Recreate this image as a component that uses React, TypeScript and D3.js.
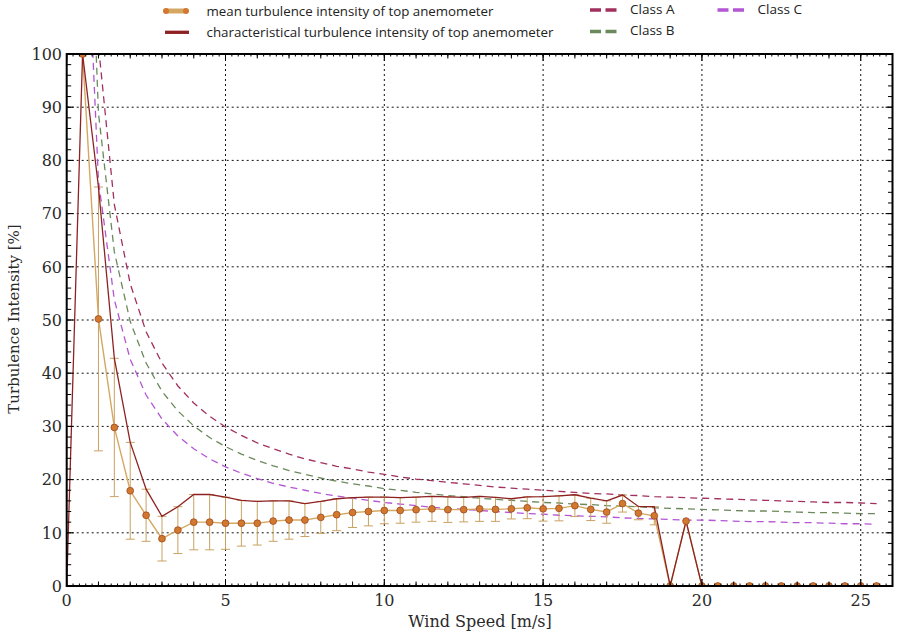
import React from 'react';
import * as d3 from 'd3';

// Wind speed bins [m/s]
const windSpeed = [0, 0.5, 1, 1.5, 2, 2.5, 3, 3.5, 4, 4.5, 5, 5.5, 6, 6.5, 7, 7.5, 8, 8.5, 9, 9.5, 10, 10.5, 11, 11.5, 12, 12.5, 13, 13.5, 14, 14.5, 15, 15.5, 16, 16.5, 17, 17.5, 18, 18.5, 19, 19.5, 20, 20.5, 21, 21.5, 22, 22.5, 23, 23.5, 24, 24.5, 25, 25.5];

// mean turbulence intensity [%] (null = no value)
const meanTI: (number | null)[] = [null, 100, 50.2, 29.8, 17.9, 13.3, 8.9, 10.5, 12.0, 12.0, 11.8, 11.8, 11.8, 12.2, 12.4, 12.4, 12.9, 13.4, 13.8, 14.0, 14.2, 14.2, 14.35, 14.5, 14.35, 14.35, 14.5, 14.4, 14.5, 14.7, 14.5, 14.6, 15.1, 14.4, 13.9, 15.5, 13.7, 13.2, 0, 12.2, 0, 0, 0, 0, 0, 0, 0, 0, 0, 0, 0, 0];

// standard deviation for error bars [%]
const stdTI = [0, 0, 24.8, 13.0, 9.1, 4.9, 4.2, 4.4, 5.2, 5.2, 4.9, 4.3, 4.1, 3.8, 3.6, 3.1, 3.0, 3.0, 2.8, 2.7, 2.5, 2.4, 2.35, 2.35, 2.4, 2.3, 2.35, 2.25, 1.9, 2.05, 2.3, 2.35, 2.05, 2.1, 2.1, 1.6, 1.25, 1.7, 0, 0, 0, 0, 0, 0, 0, 0, 0, 0, 0, 0, 0, 0];

// characteristical turbulence intensity [%]
const charTI = [0, 100, 75.0, 42.8, 27.0, 18.2, 13.1, 14.9, 17.2, 17.2, 16.7, 16.1, 15.9, 16.0, 16.0, 15.5, 15.9, 16.4, 16.6, 16.7, 16.7, 16.6, 16.7, 16.85, 16.75, 16.65, 16.85, 16.65, 16.4, 16.75, 16.8, 16.95, 17.15, 16.5, 16.0, 17.1, 14.95, 14.9, 0, 12.2, 0, 0, 0, 0, 0, 0, 0, 0, 0, 0, 0, 0];

// IEC class curves, sampled at windSpeed[1..] (0.5 ... 25.5)
const classA = [191.2, 101.6, 71.7, 56.8, 47.8, 41.9, 37.6, 34.4, 31.9, 29.9, 28.3, 26.9, 25.8, 24.8, 23.9, 23.2, 22.5, 22.0, 21.4, 21.0, 20.5, 20.1, 19.8, 19.5, 19.2, 18.9, 18.6, 18.4, 18.2, 18.0, 17.8, 17.6, 17.4, 17.3, 17.1, 17.0, 16.8, 16.7, 16.6, 16.5, 16.4, 16.3, 16.2, 16.1, 16.0, 15.9, 15.8, 15.7, 15.7, 15.6, 15.5];
const classB = [167.3, 88.9, 62.8, 49.7, 41.9, 36.6, 32.9, 30.1, 27.9, 26.2, 24.8, 23.6, 22.6, 21.7, 21.0, 20.3, 19.7, 19.2, 18.8, 18.3, 18.0, 17.6, 17.3, 17.0, 16.8, 16.5, 16.3, 16.1, 15.9, 15.7, 15.6, 15.4, 15.3, 15.1, 15.0, 14.9, 14.7, 14.6, 14.5, 14.4, 14.3, 14.2, 14.1, 14.1, 14.0, 13.9, 13.8, 13.8, 13.7, 13.6, 13.6];
const classC = [143.4, 76.2, 53.8, 42.6, 35.9, 31.4, 28.2, 25.8, 23.9, 22.4, 21.2, 20.2, 19.3, 18.6, 18.0, 17.4, 16.9, 16.5, 16.1, 15.7, 15.4, 15.1, 14.8, 14.6, 14.4, 14.2, 14.0, 13.8, 13.6, 13.5, 13.3, 13.2, 13.1, 13.0, 12.8, 12.7, 12.6, 12.5, 12.4, 12.4, 12.3, 12.2, 12.1, 12.1, 12.0, 11.9, 11.9, 11.8, 11.7, 11.7, 11.6];

const xTicks = [0, 5, 10, 15, 20, 25];
const yTicks = [0, 10, 20, 30, 40, 50, 60, 70, 80, 90, 100];

const classes = [
  { name: 'Class A', values: classA, color: '#a1305f' },
  { name: 'Class B', values: classB, color: '#6b8a5c' },
  { name: 'Class C', values: classC, color: '#b455d4' },
];

const W = 900, H = 632;
const L = 66.7, R = 892.5, T = 54, B = 586;

export default function App() {
  const x = d3.scaleLinear().domain([0, 26]).range([L, R]);
  const y = d3.scaleLinear().domain([0, 100]).range([B, T]);

  const classSpeeds = windSpeed.slice(1);
  const lineGen = d3.line<[number, number]>().x(d => x(d[0])).y(d => y(d[1]));

  const meanPts: [number, number][] = [];
  windSpeed.forEach((v, i) => { const m = meanTI[i]; if (m !== null) meanPts.push([v, m]); });
  const charPts: [number, number][] = windSpeed.map((v, i) => [v, charTI[i]]);

  const minorX = d3.range(0, 26.001, 0.2).map(v => Math.round(v * 10) / 10);
  const medX = d3.range(0, 27, 1);
  const minorY = d3.range(0, 101, 2);

  const serif = '"DejaVu Serif", serif';
  const sans = '"Open Sans", "Noto Sans", sans-serif';
  const tan = '#d4a862';
  const errC = '#c9a263';
  const red = '#8e2222';

  const legendClasses = [
    { c: classes[0], lx: 590, ly: 10, tb: 14 },
    { c: classes[1], lx: 590, ly: 31.5, tb: 35 },
    { c: classes[2], lx: 717.5, ly: 10, tb: 14 },
  ];

  return (
    <svg width={W} height={H} style={{ position: 'absolute', left: 0, top: 0, background: '#fff' }}
      xmlns="http://www.w3.org/2000/svg">
      <defs>
        <clipPath id="plotClip">
          <rect x={L} y={T} width={R - L} height={B - T} />
        </clipPath>
      </defs>
      <rect x={0} y={0} width={W} height={H} fill="#fff" />

      {/* grid */}
      <g stroke="#111" strokeWidth={1} strokeDasharray="2,3">
        {xTicks.filter(t => t > 0).map(t => (
          <line key={'gx' + t} x1={x(t)} x2={x(t)} y1={T} y2={B} />
        ))}
        {yTicks.filter(t => t > 0 && t < 100).map(t => (
          <line key={'gy' + t} x1={L} x2={R} y1={y(t)} y2={y(t)} />
        ))}
      </g>

      <g clipPath="url(#plotClip)">
        {/* class curves */}
        {classes.map(c => (
          <path key={c.name}
            d={lineGen(classSpeeds.map((v, i) => [v, c.values[i]] as [number, number])) || ''}
            fill="none" stroke={c.color} strokeWidth={1.3} strokeDasharray="7,5" />
        ))}

        {/* error bars */}
        <g stroke={errC} strokeWidth={1}>
          {windSpeed.map((v, i) => {
            const m = meanTI[i];
            const s = stdTI[i];
            if (m === null || !(s > 0)) return null;
            const cx = x(v);
            return (
              <g key={'e' + i}>
                <line x1={cx} x2={cx} y1={y(m - s)} y2={y(m + s)} />
                <line x1={cx - 4.5} x2={cx + 4.5} y1={y(m - s)} y2={y(m - s)} />
                <line x1={cx - 4.5} x2={cx + 4.5} y1={y(m + s)} y2={y(m + s)} />
              </g>
            );
          })}
        </g>

        {/* mean line */}
        <path d={lineGen(meanPts) || ''} fill="none" stroke={tan} strokeWidth={1.4} />

        {/* characteristic line */}
        <path d={lineGen(charPts) || ''} fill="none" stroke={red} strokeWidth={1.3} />

        {/* mean markers */}
        {meanPts.map((p, i) => (
          <circle key={'m' + i} cx={x(p[0])} cy={y(p[1])} r={3.4}
            fill="#d2782f" stroke="#9c4a1e" strokeWidth={0.8} />
        ))}
      </g>

      {/* ticks */}
      <g stroke="#000" strokeWidth={1}>
        {minorX.map(t => (
          <g key={'mx' + t}>
            <line x1={x(t)} x2={x(t)} y1={B} y2={B - 2.5} />
            <line x1={x(t)} x2={x(t)} y1={T} y2={T + 2.5} />
          </g>
        ))}
        {medX.map(t => (
          <g key={'dx' + t}>
            <line x1={x(t)} x2={x(t)} y1={B} y2={B - 4.5} />
            <line x1={x(t)} x2={x(t)} y1={T} y2={T + 4.5} />
          </g>
        ))}
        {xTicks.map(t => (
          <g key={'tx' + t}>
            <line x1={x(t)} x2={x(t)} y1={B} y2={B - 7} />
            <line x1={x(t)} x2={x(t)} y1={T} y2={T + 7} />
          </g>
        ))}
        {minorY.map(t => (
          <g key={'my' + t}>
            <line x1={L} x2={L + 4.5} y1={y(t)} y2={y(t)} />
            <line x1={R} x2={R - 4.5} y1={y(t)} y2={y(t)} />
          </g>
        ))}
        {yTicks.map(t => (
          <g key={'ty' + t}>
            <line x1={L} x2={L + 7} y1={y(t)} y2={y(t)} />
            <line x1={R} x2={R - 7} y1={y(t)} y2={y(t)} />
          </g>
        ))}
      </g>

      {/* frame */}
      <rect x={L} y={T} width={R - L} height={B - T} fill="none" stroke="#000" strokeWidth={2} />

      {/* tick labels */}
      <g fontFamily={serif} fontSize={16} fill="#2a2a2a">
        {xTicks.map(t => (
          <text key={'lx' + t} x={x(t)} y={606} textAnchor="middle">{t}</text>
        ))}
        {yTicks.map(t => (
          <text key={'ly' + t} x={62} y={y(t)} dy="0.36em" textAnchor="end">{t}</text>
        ))}
      </g>

      {/* axis titles */}
      <text x={480} y={627} textAnchor="middle" fontFamily={serif} fontSize={16} fill="#2a2a2a">Wind Speed [m/s]</text>
      <text transform="translate(19,319) rotate(-90)" textAnchor="middle" fontFamily={serif} fontSize={15} fill="#2a2a2a">Turbulence Intensity [%]</text>

      {/* legend */}
      <g fontFamily={sans} fontSize={13} fill="#222">
        <line x1={166} x2={186} y1={11} y2={11} stroke={tan} strokeWidth={5} />
        <circle cx={166} cy={11} r={3} fill="#d2782f" />
        <circle cx={186} cy={11} r={3} fill="#d2782f" />
        <text x={206.5} y={15.5} textLength={287} lengthAdjust="spacingAndGlyphs">mean turbulence intensity of top anemometer</text>

        <line x1={165} x2={189} y1={32.3} y2={32.3} stroke={red} strokeWidth={3.3} />
        <text x={206.5} y={37} textLength={347} lengthAdjust="spacingAndGlyphs">characteristical turbulence intensity of top anemometer</text>

        {legendClasses.map(({ c, lx, ly, tb }) => (
          <g key={'lg' + c.name}>
            <line x1={lx} x2={lx + 26.5} y1={ly} y2={ly} stroke={c.color} strokeWidth={3.5} strokeDasharray="11,4.5" />
            <text x={lx + 40} y={tb} textLength={44.5} lengthAdjust="spacingAndGlyphs">{c.name}</text>
          </g>
        ))}
      </g>
    </svg>
  );
}
